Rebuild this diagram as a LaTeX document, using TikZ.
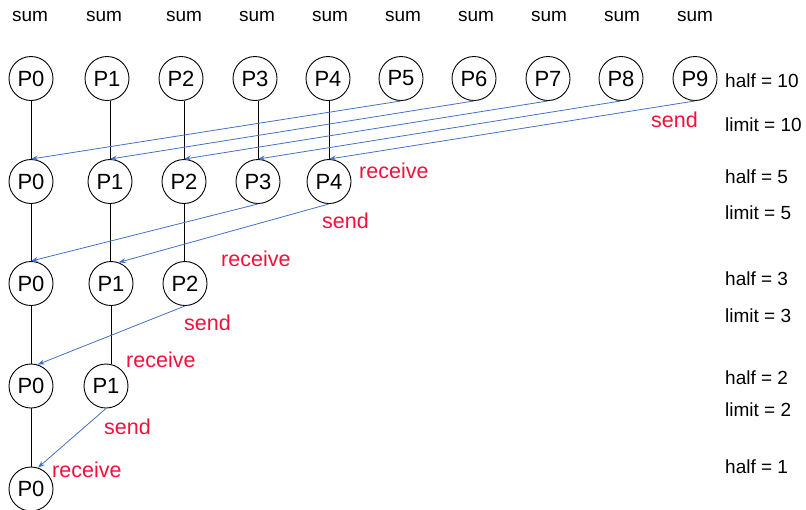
\documentclass[tikz,border=0pt]{standalone}
\usepackage{fontspec}
\setmainfont{Liberation Sans}
\usetikzlibrary{arrows.meta}
\definecolor{linkblue}{HTML}{4472C4}
\definecolor{lblred}{HTML}{F5103C}
\begin{document}
\begin{tikzpicture}[x=1pt,y=-1pt,
  proc/.style={draw,circle,minimum size=44pt,inner sep=0pt,line width=0.9pt,font=\fontsize{22}{22}\selectfont},
  txt/.style={font=\fontsize{19}{19}\selectfont,inner sep=0pt},
  redtxt/.style={font=\fontsize{21.5}{21.5}\selectfont,inner sep=0pt,text=lblred,anchor=west},
  side/.style={txt,anchor=west},
  link/.style={line width=0.9pt},
  msg/.style={draw=linkblue,line width=0.8pt,-{Stealth[length=7pt,width=5pt]}}]
\useasboundingbox (0,0) rectangle (806,509);
% sums
\foreach \x/\i in {30/0,104/1,184/2,257/3,330/4,403/5,476/6,549/7,622/8,695/9}
  \node[txt] (s\i) at (\x,16) {sum};
% row 1
\foreach \x/\i in {31/0,107/1,181/2,255/3,328/4,401/5,474/6,548/7,621/8,695/9}
  \node[proc] (a\i) at (\x,78.5) {P\i};
% row 2
\foreach \x/\i in {31/0,110/1,184/2,258/3,329/4}
  \node[proc] (b\i) at (\x,181.5) {P\i};
% row 3
\foreach \x/\i in {31/0,111/1,185/2}
  \node[proc] (c\i) at (\x,283.5) {P\i};
% row 4
\foreach \x/\i in {31/0,106/1}
  \node[proc] (d\i) at (\x,386) {P\i};
% row 5
\node[proc] (e0) at (31,489) {P0};
% vertical links
\foreach \i in {0,...,4} \draw[link] (a\i.south -| b\i.north) -- (b\i.north);
\foreach \i in {0,1,2} \draw[link] (b\i.south) -- (b\i.south |- c\i.north);
\draw[link] (c0.south) -- (d0.north);
\draw[link] (c1.south) -- (c1.south |- d1.north);
\draw[link] (d0.south) -- (e0.north);
% messages
\draw[msg] (a5.south) -- (b0.north);
\draw[msg] (a6.south) -- (b1.north);
\draw[msg] (a7.south) -- (b2.north);
\draw[msg] (a8.south) -- (b3.north);
\draw[msg] (a9.south) -- (b4.north);
\draw[msg] (b3.south) -- (c0.north);
\draw[msg] (b4.south) -- (c1.70);
\draw[msg] (c2.south) -- (d0.73);
\draw[msg] (d1.south) -- (e0.72);
% red labels
\node[redtxt] (l1) at (651,120) {send};
\node[redtxt] (l2) at (359,171) {receive};
\node[redtxt] (l3) at (322,221) {send};
\node[redtxt] (l4) at (221,259) {receive};
\node[redtxt] (l5) at (184,323) {send};
\node[redtxt] (l6) at (126,360) {receive};
\node[redtxt] (l7) at (104,427) {send};
\node[redtxt] (l8) at (52,470) {receive};
% side labels
\node[side] (h1) at (725,81) {half = 10};
\node[side] (m1) at (725,125) {limit = 10};
\node[side] (h2) at (725,177) {half = 5};
\node[side] (m2) at (725,213) {limit = 5};
\node[side] (h3) at (725,279) {half = 3};
\node[side] (m3) at (725,316) {limit = 3};
\node[side] (h4) at (725,378) {half = 2};
\node[side] (m4) at (725,410) {limit = 2};
\node[side] (h5) at (725,467) {half = 1};
\end{tikzpicture}
\end{document}
